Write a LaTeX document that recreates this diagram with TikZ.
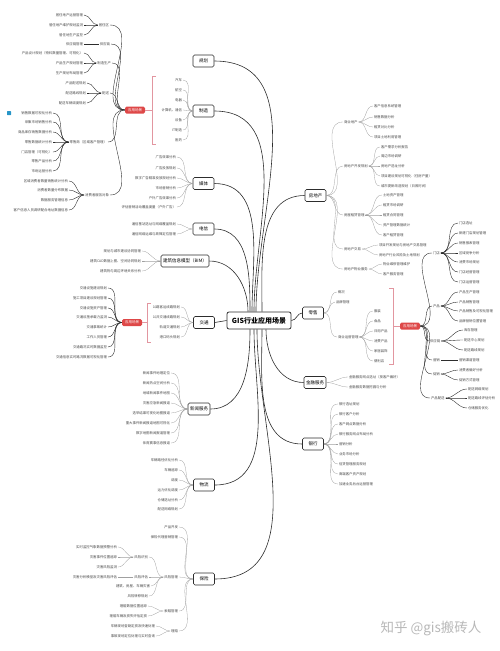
\documentclass[tikz,border=0pt]{standalone}
\usepackage{fontspec}
\setmainfont{Noto Sans CJK SC}
\usetikzlibrary{positioning}
\definecolor{tagred}{RGB}{222,72,72}
\definecolor{tagpink}{RGB}{226,150,160}
\definecolor{limbgray}{RGB}{45,45,45}
\definecolor{twiggray}{RGB}{160,160,160}
\definecolor{leafgray}{RGB}{70,70,70}
\definecolor{iconblue}{RGB}{40,150,200}
\begin{document}
\begin{tikzpicture}[x=1pt,y=-1pt,
  every node/.style={inner sep=0.8pt},
  hub/.style={rectangle, rounded corners=2pt, draw=limbgray, line width=0.8pt, fill=white,
              minimum width=64pt, minimum height=17pt, font=\fontsize{7}{8}\selectfont\bfseries},
  topic/.style={rectangle, rounded corners=1.5pt, draw=limbgray, line width=0.6pt, fill=white,
                minimum width=21pt, minimum height=12pt, inner sep=2pt, font=\fontsize{4.5}{5}\selectfont},
  tag/.style={rectangle, rounded corners=1.5pt, fill=tagred, text=white,
              minimum width=20pt, minimum height=7pt, font=\fontsize{3.5}{4}\selectfont},
  leaf/.style={text=leafgray, font=\fontsize{3.4}{4}\selectfont},
  leafL/.style={leaf, anchor=east},
  leafR/.style={leaf, anchor=west},
  limb/.style={draw=limbgray, line width=0.6pt},
  twig/.style={draw=twiggray, line width=0.3pt},
  twigdk/.style={draw=limbgray, line width=0.4pt},
  brk/.style={draw=tagpink, line width=0.6pt}
]
  \useasboundingbox (0,0) rectangle (500,651);

  % hub and topics
  \node[hub] (gis) at (259,320.5) {GIS行业应用场景};
  \node[topic] (plan) at (203.5,61) {规划};
  \node[topic] (mfg) at (203.5,111) {制造};
  \node[topic] (media) at (203.5,183.5) {媒体};
  \node[topic] (tele) at (203.5,229) {电信};
  \node[topic] (bim) at (185,261) {建筑信息模型（BIM）};
  \node[topic] (traffic) at (204,322.5) {交通};
  \node[topic] (news) at (199,409) {新闻服务};
  \node[topic] (logis) at (204,485) {物流};
  \node[topic] (ins) at (204,579) {保险};
  \node[topic] (estate) at (315.5,195.5) {房地产};
  \node[topic] (retail) at (313,313) {零售};
  \node[topic] (fin) at (315,382.5) {金融服务};
  \node[topic] (bank) at (313,444) {银行};

  \draw[limb] (plan.east) to[out=0,in=90] ([xshift=-3pt]gis.north);
  \draw[limb] (mfg.east) to[out=0,in=90] ([xshift=-5pt]gis.north);
  \draw[limb] (media.east) to[out=0,in=90] ([xshift=-7pt]gis.north);
  \draw[limb] (tele.east) to[out=0,in=90] ([xshift=-9pt]gis.north);
  \draw[limb] (bim.east) to[out=0,in=90] ([xshift=-11pt]gis.north);
  \draw[limb] ([xshift=3pt]gis.north) to[out=90,in=180] (estate.west);
  \draw[limb] (gis.east) to[out=0,in=180] (retail.west);
  \draw[limb] (traffic.east) -- (gis.west);
  \draw[limb] ([xshift=-9pt]gis.south) to[out=-90,in=0] (news.east);
  \draw[limb] ([xshift=-5pt]gis.south) to[out=-90,in=0] (logis.east);
  \draw[limb] ([xshift=-2pt]gis.south) to[out=-90,in=0] (ins.east);
  \draw[limb] ([xshift=3pt]gis.south) to[out=-90,in=180] (bank.west);
  \draw[limb] ([xshift=7pt]gis.south) to[out=-90,in=180] (fin.west);

  % 制造 branch
  \foreach \y/\t [count=\i] in {80/汽车, 90/航空, 100/电器, 110/计算机、通信, 120/设备, 130/IT制造, 140/医药} {
    \node[leafL] (mfg\i) at (183,\y) {\t};
    \draw[twig] (mfg.west) to[out=180,in=0] (mfg\i.east);
  }
  \node[tag] (tag1) at (135,110) {应用场景};
  \coordinate (b1) at (152,110);
  \draw[brk] (156,76) -- (152,76) -- (152,144) -- (156,144);
  \draw[brk] (tag1.east) -- (b1);

  % 应用场景 (制造)
  \node[fill=iconblue, rounded corners=0.5pt, minimum size=4pt, inner sep=0pt] (ico) at (9,113) {};
  \node[leafL] (jz) at (110,25) {居住区};
  \node[leafL] (gy) at (111,44) {供应链};
  \node[leafL] (zz) at (112,63) {制造生产};
  \node[leafL] (ps) at (110,93) {配送};
  \node[leafL] (ls) at (108,142) {零售商（区域客户管理）};
  \node[leafL] (xf) at (110,195) {消费者服务对象};
  \foreach \g in {jz,gy,zz,ps,ls,xf}
    \draw[twigdk] (tag1.west) to[out=180,in=0] (\g.east);

  \foreach \y/\t [count=\i] in {15/居住地产运营管理, 25/居住地产维护规划监测, 35/居住地生产监控} {
    \node[leafL] (jz\i) at (84,\y) {\t};
    \draw[twigdk] (jz.west) to[out=180,in=0] (jz\i.east);
  }
  \node[leafL] (gy1) at (84,44) {供应链管理};
  \draw[twigdk] (gy.west) -- (gy1.east);
  \foreach \y/\t [count=\i] in {53/产品设计规划（物料数量管理、可视化）, 63/产品生产规划管理, 73/生产规划布局管理} {
    \node[leafL] (zz\i) at (84,\y) {\t};
    \draw[twigdk] (zz.west) to[out=180,in=0] (zz\i.east);
  }
  \foreach \y/\t [count=\i] in {83/产品配送规划, 93/配送路线规划, 103/配送车辆调度规划} {
    \node[leafL] (ps\i) at (87,\y) {\t};
    \draw[twigdk] (ps.west) to[out=180,in=0] (ps\i.east);
  }
  \foreach \y/\t [count=\i] in {113/销售数据可视化分析, 122/采集市场销售分析, 132/商品库存销售数据分析,
      142/零售数据统计分析, 152/门店管理（可视化）, 161/零售产品分析, 171/市场运营分析} {
    \node[leafL] (ls\i) at (53,\y) {\t};
    \draw[twigdk] (ls.west) to[out=180,in=0] (ls\i.east);
  }
  \foreach \y/\t [count=\i] in {181/区域消费者数量销售统计分析, 190/消费者数量分布数据, 200/数据服务管理信息,
      210/客户信息人员调研配合地址数据信息} {
    \node[leafL] (xf\i) at (69,\y) {\t};
    \draw[twigdk] (xf.west) to[out=180,in=0] (xf\i.east);
  }

  % 媒体, 电信, BIM
  \foreach \y/\t [count=\i] in {157/广告效果分析, 168/广告投放规划, 178/数字广告精准投放规划分析,
      188/市场营销分析, 198/户外广告效果分析, 207/评估营销活动覆盖度量（户外广告）} {
    \node[leafL] (media\i) at (177,\y) {\t};
    \draw[twig] (media.west) to[out=180,in=0] (media\i.east);
  }
  \foreach \y/\t [count=\i] in {224/通信基站选址与网络覆盖规划, 234/通信网络运维与故障定位管理} {
    \node[leafL] (tele\i) at (177,\y) {\t};
    \draw[twig] (tele.west) to[out=180,in=0] (tele\i.east);
  }
  \foreach \y/\t [count=\i] in {251/规划与城市建设协同管理, 261/建筑CAD数据上图、空间协同规划, 271/建筑物与周边环境关系分析} {
    \node[leafL] (bim\i) at (142,\y) {\t};
    \draw[twig] (bim.west) to[out=180,in=0] (bim\i.east);
  }

  % 交通 branch
  \foreach \y/\t [count=\i] in {307/公路客运线路规划, 317/公共交通线路规划, 327/轨道交通规划, 337/港口码头规划} {
    \node[leafL] (traffic\i) at (181,\y) {\t};
    \draw[twig] (traffic.west) to[out=180,in=0] (traffic\i.east);
  }
  \node[tag] (tag2) at (132,322.5) {应用场景};
  \coordinate (b2) at (147,322.5);
  \draw[brk] (151,303) -- (147,303) -- (147,342) -- (151,342);
  \draw[brk] (tag2.east) -- (b2);
  \foreach \y/\t [count=\i] in {288/交通设施建设规划, 298/施工项目建设规划管理, 308/交通设施资产管理,
      317/交通设施承载力监测, 327/交通事故统计, 337/工作人员管理, 347/交通路况实时数据监控,
      357/交通信息实时路况数据可视化管理} {
    \node[leafL] (tr\i) at (108,\y) {\t};
    \draw[twigdk] (tag2.west) to[out=180,in=0] (tr\i.east);
  }

  % 新闻服务, 物流
  \foreach \y/\t [count=\i] in {373/新闻事件地理定位, 383/新闻热点空间分析, 393/地域新闻事件地图,
      403/灾害应急新闻报道, 413/选举结果可视化地图报道, 423/重大事件新闻报道地图可视化,
      433/数字地图新闻报道管理, 443/体育赛事信息报道} {
    \node[leafL] (news\i) at (171,\y) {\t};
    \draw[twig] (news.west) to[out=180,in=0] (news\i.east);
  }
  \foreach \y/\t [count=\i] in {460/车辆路径优化分析, 470/车辆追踪, 480/调度, 490/运力优化调度,
      500/仓储选址分析, 509/配送网络规划} {
    \node[leafL] (logis\i) at (179,\y) {\t};
    \draw[twig] (logis.west) to[out=180,in=0] (logis\i.east);
  }

  % 保险 branch
  \node[leafL] (ins1) at (179,527) {产品开发};
  \node[leafL] (ins2) at (179,537) {保险代理营销管理};
  \node[leafL] (fx) at (179,577) {风险管理};
  \node[leafL] (sp) at (179,611) {索赔管理};
  \node[leafL] (lp) at (179,631) {理赔};
  \foreach \n in {ins1,ins2,fx,sp,lp}
    \draw[twig] (ins.west) to[out=180,in=0] (\n.east);

  \node[leafL] (fxsb) at (149,557) {风险识别};
  \node[leafL] (fxpg) at (149,577) {风险评估};
  \node[leafL] (fxzh) at (151,586) {建筑、房屋、车辆灾害};
  \node[leafL] (fxzy) at (149,596) {风险转移规划};
  \foreach \n in {fxsb,fxpg,fxzh,fxzy}
    \draw[twig] (fx.west) to[out=180,in=0] (\n.east);
  \foreach \y/\t [count=\i] in {547/实时监控气象数据预警分析, 557/灾害事件位置追踪, 567/灾害风险监测} {
    \node[leafL] (fxsb\i) at (118,\y) {\t};
    \draw[twig] (fxsb.west) to[out=180,in=0] (fxsb\i.east);
  }
  \node[leafL] (fxpg1) at (118,577) {灾害分析模型及灾害风险评估};
  \draw[twig] (fxpg.west) -- (fxpg1.east);
  \foreach \y/\t [count=\i] in {606/理赔数据位置追踪, 616/理赔车辆及损失评估定损} {
    \node[leafL] (sp\i) at (148,\y) {\t};
    \draw[twig] (sp.west) to[out=180,in=0] (sp\i.east);
  }
  \foreach \y/\t [count=\i] in {626/车辆现场查勘定损及快速处理, 636/事故现场定位处理与实时查询} {
    \node[leafL] (lp\i) at (156,\y) {\t};
    \draw[twig] (lp.west) to[out=180,in=0] (lp\i.east);
  }

  % 房地产 branch
  \node[leafR] (sy) at (343,122) {商业地产};
  \node[leafR] (kf) at (343,166) {房地产开发规划};
  \node[leafR] (zl) at (343,215) {房屋租赁管理};
  \node[leafR] (jy) at (343,249) {房地产交易};
  \node[leafR] (wy) at (343,269) {房地产物业服务};
  \foreach \n in {sy,kf,zl,jy,wy}
    \draw[twig] (estate.east) to[out=0,in=180] (\n.west);
  \foreach \y/\t [count=\i] in {106/客户信息系统管理, 117/销售数据分析, 127/租赁对比分析, 137/项目土地利用管理} {
    \node[leafR] (sy\i) at (373,\y) {\t};
    \draw[twig] (sy.east) to[out=0,in=180] (sy\i.west);
  }
  \foreach \y/\t [count=\i] in {147/客户需求分析报告, 156/周边市场调研, 166/房地产选址分析,
      176/项目建设规划可视化（住房产量）, 186/城市更新改造规划（日照时间）} {
    \node[leafR] (kf\i) at (380,\y) {\t};
    \draw[twig] (kf.east) to[out=0,in=180] (kf\i.west);
  }
  \foreach \y/\t [count=\i] in {195/土地资产管理, 205/租赁市场调研, 215/租赁合同管理, 225/资产管理数据统计, 235/客户租赁管理} {
    \node[leafR] (zl\i) at (382,\y) {\t};
    \draw[twig] (zl.east) to[out=0,in=180] (zl\i.west);
  }
  \foreach \y/\t [count=\i] in {245/项目开发规划与房地产交易管理, 255/房地产行业风险及土地规划} {
    \node[leafR] (jy\i) at (378,\y) {\t};
    \draw[twig] (jy.east) to[out=0,in=180] (jy\i.west);
  }
  \foreach \y/\t [count=\i] in {264/物业维修管理维护, 274/客户服务管理} {
    \node[leafR] (wy\i) at (382,\y) {\t};
    \draw[twig] (wy.east) to[out=0,in=180] (wy\i.west);
  }

  % 零售 branch
  \node[leafR] (gk) at (337,292) {概况};
  \node[leafR] (pp) at (335,302) {品牌管理};
  \node[leafR] (yy) at (337,337) {商业运营管理};
  \foreach \n in {gk,pp,yy}
    \draw[twig] (retail.east) to[out=0,in=180] (\n.west);
  \foreach \y/\t [count=\i] in {311/服装, 321/食品, 331/日用产品, 341/消费产品, 351/家居装饰, 361/便利店} {
    \node[leafR] (yy\i) at (373,\y) {\t};
    \draw[twig] (yy.east) to[out=0,in=180] (yy\i.west);
  }
  \node[tag] (tag3) at (410,326) {应用场景};
  \coordinate (b3) at (393,326);
  \draw[brk] (389,288) -- (393,288) -- (393,364) -- (389,364);
  \draw[brk] (b3) -- (tag3.west);

  % 应用场景 (零售)
  \node[leafR] (md) at (432,253) {门店};
  \node[leafR] (cp) at (432,306) {产品};
  \node[leafR] (gl) at (429,341) {供应链};
  \node[leafR] (yx) at (432,360) {营销};
  \node[leafR] (cx) at (432,374) {促销};
  \node[leafR] (pd) at (430,398) {产品配送};
  \foreach \g in {md,cp,gl,yx,cx,pd}
    \draw[twigdk] (tag3.east) to[out=0,in=180] (\g.west);
  \foreach \y/\t [count=\i] in {223/门店选址, 233/新建门店规划管理, 243/销售报表管理, 253/区域竞争分析,
      262/消费市场规划, 272/门店经营管理, 282/门店运营管理} {
    \node[leafR] (md\i) at (458,\y) {\t};
    \draw[twigdk] (md.east) to[out=0,in=180] (md\i.west);
  }
  \foreach \y/\t [count=\i] in {292/产品生产管理, 302/产品销售管理, 311/产品销售及可视化管理, 321/品牌营销位置管理} {
    \node[leafR] (cp\i) at (458,\y) {\t};
    \draw[twigdk] (cp.east) to[out=0,in=180] (cp\i.west);
  }
  \foreach \y/\t [count=\i] in {330/库存管理, 340/配送中心规划, 350/配送路线规划} {
    \node[leafR] (gl\i) at (463,\y) {\t};
    \draw[twigdk] (gl.east) to[out=0,in=180] (gl\i.west);
  }
  \node[leafR] (yx1) at (458,360) {营销渠道管理};
  \draw[twigdk] (yx.east) -- (yx1.west);
  \foreach \y/\t [count=\i] in {370/消费者偏好分析, 380/促销方式管理} {
    \node[leafR] (cx\i) at (458,\y) {\t};
    \draw[twigdk] (cx.east) to[out=0,in=180] (cx\i.west);
  }
  \foreach \y/\t [count=\i] in {389/配送网络规划, 398/配送路线评估分析, 408/仓储服务优化} {
    \node[leafR] (pd\i) at (467,\y) {\t};
    \draw[twigdk] (pd.east) to[out=0,in=180] (pd\i.west);
  }

  % 金融服务, 银行
  \foreach \y/\t [count=\i] in {377/金融服务网点选址（按客户偏好）, 387/金融服务数据挖掘与分析} {
    \node[leafR] (fin\i) at (348,\y) {\t};
    \draw[twig] (fin.east) to[out=0,in=180] (fin\i.west);
  }
  \foreach \y/\t [count=\i] in {404/银行选址规划, 414/银行客户分析, 424/客户网点数据分析, 434/银行服务网点布局分析,
      444/营销分析, 454/业务市场分析, 464/信贷管理服务规划, 474/高端客户资产规划, 484/加速业务后台运营管理} {
    \node[leafR] (bank\i) at (338,\y) {\t};
    \draw[twig] (bank.east) to[out=0,in=180] (bank\i.west);
  }

  \node[text=black!28, font=\fontsize{13.5}{16}\selectfont] (wm) at (431,628) {知乎 @gis搬砖人};
\end{tikzpicture}
\end{document}
